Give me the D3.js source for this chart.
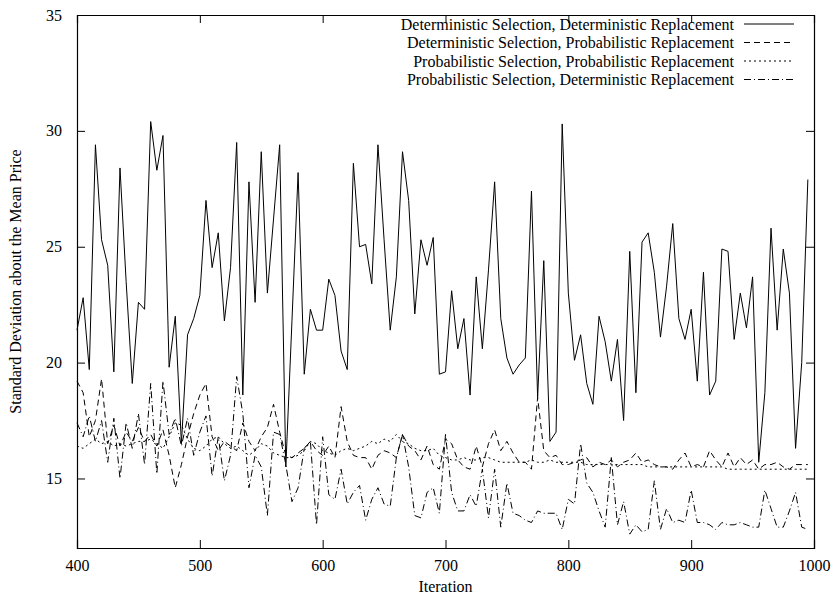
<!DOCTYPE html>
<html><head><meta charset="utf-8">
<script src="https://cdn.jsdelivr.net/npm/d3@7"></script>
<style>body{margin:0;background:#fff}svg{display:block}</style>
</head><body>
<svg id="chart" width="832" height="597"></svg>
<script>
const iterations = d3.range(400, 1000, 5);
const detDet = [21.4,22.8,19.7,29.4,25.3,24.2,19.6,28.4,23.5,19.1,22.6,22.3,30.4,28.3,29.8,19.8,22.0,16.5,21.2,21.9,
22.9,27.0,24.1,25.6,21.8,24.1,29.5,18.6,27.8,22.6,29.1,23.0,26.2,29.4,15.5,21.8,28.2,19.5,22.3,21.4,
21.4,23.6,22.9,20.5,19.7,28.6,25.0,25.1,23.4,29.4,25.3,21.4,23.7,29.1,27.0,22.1,25.3,24.2,25.4,19.5,
19.6,23.1,20.6,21.9,18.6,23.7,20.6,24.0,27.8,21.9,20.2,19.5,19.9,20.2,27.4,18.5,24.4,16.6,17.0,30.3,
23.0,20.1,21.2,19.1,18.2,22.0,20.9,19.2,21.0,17.5,24.8,18.7,25.2,25.6,23.9,21.1,23.3,26.0,21.9,21.0,
22.3,19.2,23.9,18.6,19.2,24.9,24.8,21.0,23.0,21.5,23.7,15.7,18.7,25.8,21.4,24.9,23.0,16.3,20.0,27.9];
const detProb = [19.2,18.7,16.8,17.5,19.3,16.5,17.3,16.4,17.0,16.6,17.2,16.6,16.9,16.4,17.1,16.0,14.6,15.6,16.8,17.8,
18.6,19.1,16.8,16.2,16.6,16.4,16.2,17.4,16.6,16.2,16.8,17.2,18.2,17.0,16.0,15.9,16.1,16.3,16.6,16.2,
16.0,16.4,15.9,18.1,16.6,16.0,15.9,15.9,15.4,16.0,16.2,16.1,15.9,16.9,16.4,16.2,15.8,16.4,15.6,15.4,
16.7,16.5,15.8,15.5,15.4,16.4,15.5,16.5,17.1,16.2,16.6,16.1,15.7,15.7,15.4,18.5,16.2,15.9,16.0,15.6,
15.6,15.7,15.8,15.9,15.5,15.7,15.6,15.8,15.5,15.7,15.8,16.1,15.7,15.8,15.6,15.5,15.5,15.4,15.8,16.1,
15.5,15.6,15.5,16.2,15.8,15.5,16.1,15.5,15.9,15.6,15.8,15.4,15.6,15.6,15.7,15.5,15.4,15.6,15.6,15.6];
const probProb = [16.4,16.3,16.5,16.7,16.5,16.6,16.4,16.5,16.4,16.5,16.6,16.6,16.7,16.5,16.3,16.8,17.4,17.3,16.7,16.3,
16.2,16.4,16.7,16.8,16.5,16.3,16.4,16.2,16.0,16.2,16.5,16.4,16.1,16.0,15.9,15.9,16.0,16.2,16.6,16.5,
16.2,16.1,16.0,16.2,16.3,16.2,16.3,16.4,16.6,16.5,16.7,16.6,16.9,16.6,16.5,16.3,16.2,16.2,16.3,16.0,
15.9,15.8,15.8,15.9,15.8,15.8,15.9,15.9,15.8,15.7,15.7,15.7,15.7,15.7,15.8,15.7,15.7,15.8,15.7,15.7,
15.7,15.7,15.7,15.6,15.6,15.6,15.6,15.6,15.6,15.6,15.6,15.6,15.6,15.5,15.5,15.5,15.5,15.5,15.5,15.5,
15.5,15.5,15.5,15.5,15.5,15.5,15.4,15.4,15.4,15.4,15.4,15.4,15.4,15.4,15.4,15.4,15.4,15.4,15.4,15.4];
const probDet = [17.4,16.8,17.7,16.6,17.5,15.7,17.6,15.0,17.4,16.3,17.8,15.6,19.1,15.2,19.2,16.9,17.6,16.4,17.6,16.0,
17.0,17.7,15.1,16.8,14.9,16.0,19.4,17.8,14.6,16.0,15.5,13.4,17.0,16.9,15.6,14.0,14.6,16.3,16.6,13.0,
16.8,14.3,14.1,15.4,13.9,14.4,14.7,13.2,14.1,14.6,13.9,13.8,15.9,16.9,15.5,13.4,13.3,14.4,14.6,13.5,
16.9,14.4,13.6,13.6,14.3,13.8,15.4,13.3,15.4,12.9,14.8,13.5,13.4,13.2,13.1,13.6,13.5,13.5,13.5,12.8,
14.1,13.9,16.5,14.8,14.4,13.6,12.9,15.9,13.0,14.0,12.6,13.0,12.7,12.8,14.9,12.8,13.7,13.1,13.2,13.1,
14.5,13.1,13.1,13.0,12.8,13.1,13.0,13.0,13.1,13.0,12.9,12.9,14.5,13.7,12.9,12.9,13.6,14.4,12.9,12.8];

const seriesNames = [
  "Deterministic Selection, Deterministic Replacement",
  "Deterministic Selection, Probabilistic Replacement",
  "Probabilistic Selection, Probabilistic Replacement",
  "Probabilistic Selection, Deterministic Replacement"
];
const seriesValues = [detDet, detProb, probProb, probDet];
const dashes = [null, "6,4", "2,3", "7,3,1,3"];
const xTicks = [400,500,600,700,800,900,1000];
const yTicks = [15,20,25,30,35];

const svg = d3.select("#chart");
const m = {left:77, right:18, top:15, bottom:49};
const W = 832, H = 597;
const iw = W - m.left - m.right, ih = H - m.top - m.bottom;
const g = svg.append("g").attr("transform", `translate(${m.left},${m.top})`);
const x = d3.scaleLinear().domain([400,1000]).range([0, iw]);
const y = d3.scaleLinear().domain([12,35]).range([ih, 0]);
const font = "'Liberation Serif','Times New Roman',serif";

const axB = g.append("g").attr("transform", `translate(0,${ih})`)
  .call(d3.axisBottom(x).tickValues(xTicks).tickSize(-8).tickPadding(12).tickFormat(d3.format("d")));
const axT = g.append("g").call(d3.axisTop(x).tickValues(xTicks).tickSize(-8).tickFormat(""));
const axL = g.append("g").call(d3.axisLeft(y).tickValues(yTicks).tickSize(-8).tickPadding(15).tickFormat(d3.format("d")));
const axR = g.append("g").attr("transform", `translate(${iw},0)`)
  .call(d3.axisRight(y).tickValues(yTicks).tickSize(-8).tickFormat(""));
[axB, axT, axL, axR].forEach(a => {
  a.select(".domain").attr("stroke", "#000").attr("stroke-width", 1.2);
  a.selectAll(".tick line").attr("stroke", "#000").attr("stroke-width", 1);
  a.selectAll("text").attr("font-family", font).attr("font-size", 16).attr("fill", "#000");
});

const line = d3.line().x((d, i) => x(iterations[i])).y(d => y(d));
seriesValues.forEach((vals, k) => {
  g.append("path").datum(vals).attr("d", line)
    .attr("fill", "none").attr("stroke", "#000").attr("stroke-width", 1)
    .attr("stroke-dasharray", dashes[k]);
});

const leg = g.append("g");
seriesNames.forEach((name, k) => {
  const yy = 9 + k * 18.5;
  leg.append("text").attr("x", iw - 80).attr("y", yy).attr("dy", "0.35em")
    .attr("text-anchor", "end").attr("font-family", font).attr("font-size", 16).text(name);
  leg.append("line").attr("x1", iw - 70).attr("x2", iw - 20).attr("y1", yy).attr("y2", yy)
    .attr("stroke", "#000").attr("stroke-width", 1).attr("stroke-dasharray", dashes[k]);
});

svg.append("text").attr("x", m.left + iw / 2).attr("y", 592).attr("text-anchor", "middle")
  .attr("font-family", font).attr("font-size", 16).text("Iteration");
svg.append("text").attr("transform", `translate(21,${m.top + ih / 2}) rotate(-90)`)
  .attr("text-anchor", "middle").attr("font-family", font).attr("font-size", 16)
  .text("Standard Deviation about the Mean Price");
</script>
</body></html>
